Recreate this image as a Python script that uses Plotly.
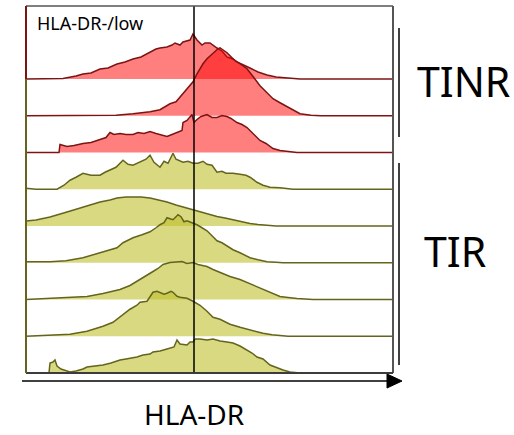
import plotly.graph_objects as go

# ---- data: HLA-DR histograms (channel, count) ----
row_labels = ["TINR 1", "TINR 2", "TINR 3", "TIR 1", "TIR 2", "TIR 3", "TIR 4", "TIR 5", "TIR 6"]
row_groups = ["TINR", "TINR", "TINR", "TIR", "TIR", "TIR", "TIR", "TIR", "TIR"]

r1_x = [0, 20, 37, 50, 57, 65, 74, 82, 91, 99, 107, 115, 124, 130, 134, 141, 146, 149, 154, 157, 164, 167, 171, 176, 179, 184, 191, 196, 201, 207, 211, 218, 221, 224, 232, 241, 250, 257, 274, 367]
r1_y = [0, 0, 0.5, 3, 5, 6, 10, 11, 15, 17, 20, 22, 27, 30, 31, 32, 34, 36, 34, 37, 39, 45, 39, 34, 36, 36, 31, 28, 22, 20, 17, 14, 12, 11, 7, 4, 2, 1.5, 0, 0]

r2_x = [0, 60, 90, 107, 124, 134, 144, 150, 157, 164, 167, 171, 174, 177, 181, 184, 188, 192, 194, 197, 201, 204, 208, 214, 221, 228, 234, 240, 247, 254, 261, 268, 274, 285, 295, 367]
r2_y = [0, 0, 0.5, 2, 4, 6, 12, 14, 22, 30, 34, 42, 47, 52, 57, 60, 64, 67, 68, 66, 63, 60, 56, 52, 47, 38, 30, 24, 17, 13, 9, 5, 2, 0.5, 0, 0]

r3_x = [0, 33, 34, 38, 41, 48, 57, 65, 74, 80, 84, 88, 94, 100, 107, 112, 118, 124, 130, 136, 141, 146, 152, 156, 157, 161, 166, 168, 171, 175, 181, 186, 191, 196, 201, 205, 211, 216, 221, 224, 229, 234, 240, 247, 254, 261, 271, 367]
r3_y = [0, 0, 8, 7, 6, 7, 9, 10, 13, 15, 20, 18, 19, 18, 18, 20, 19, 21, 19, 17, 16, 18, 20, 22, 30, 32, 38, 30, 33, 36, 38, 35, 35, 37, 36, 34, 30, 28, 25, 22, 18, 12, 9, 4, 2, 1, 0, 0]

r4_x = [0, 10, 31, 38, 44, 50, 57, 65, 74, 79, 84, 90, 97, 102, 107, 114, 120, 124, 128, 134, 138, 142, 147, 150, 157, 162, 167, 172, 177, 181, 186, 191, 196, 200, 207, 214, 220, 224, 231, 237, 244, 254, 262, 267, 367]
r4_y = [1, 0, 0, 4, 9, 12, 16, 14, 14, 17, 19, 22, 29, 25, 24, 27, 30, 34, 27, 22, 28, 26, 36, 30, 27, 28, 26, 26, 28, 25, 24, 17, 18, 16, 16, 15, 14, 12, 7, 4, 2, 1.5, 1, 0, 0]

r5_x = [0, 10, 24, 41, 51, 57, 65, 74, 84, 91, 100, 107, 115, 124, 133, 141, 150, 157, 166, 174, 184, 191, 199, 207, 216, 224, 232, 241, 250, 367]
r5_y = [5, 6, 9, 14, 17, 19, 21, 24, 26, 28, 29, 29, 29, 28, 26, 24, 21, 19, 16, 14, 11, 9.5, 8, 6, 4, 2.5, 1.5, 0.5, 0, 0]

r6_x = [0, 24, 40, 57, 74, 91, 97, 107, 116, 124, 130, 134, 138, 141, 144, 147, 150, 152, 155, 158, 161, 166, 171, 176, 181, 186, 191, 196, 201, 207, 214, 224, 232, 241, 250, 257, 367]
r6_y = [1, 1, 2, 5, 10, 15, 20, 25, 28, 31, 35, 38, 40, 45, 44, 43, 46, 48, 46, 41, 42, 40, 38, 35, 32, 27, 22, 20, 17, 13, 10, 5, 3, 1, 0.5, 0, 0]

r7_x = [0, 27, 44, 61, 77, 94, 104, 111, 119, 127, 132, 137, 144, 151, 156, 161, 167, 172, 181, 187, 194, 200, 204, 214, 221, 229, 237, 246, 254, 262, 271, 287, 367]
r7_y = [0, 1, 2, 3, 6, 10, 14, 18, 23, 28, 31, 35, 37, 38, 38, 36, 37, 35, 33, 30, 27, 25, 23, 20, 17, 13, 10, 6, 3, 2, 1, 0, 0]

r8_x = [0, 27, 44, 61, 77, 87, 94, 104, 111, 114, 121, 124, 127, 131, 134, 138, 141, 145, 147, 151, 154, 161, 167, 174, 181, 187, 194, 204, 214, 221, 229, 237, 246, 254, 262, 367]
r8_y = [0, 1, 2, 5, 10, 14, 19, 27, 31, 34, 35, 40, 44, 45, 44, 42, 43, 45, 44, 40, 39, 38, 35, 31, 25, 19, 17, 12, 9, 7, 5, 3, 1.5, 0.5, 0, 0]

r9_x = [0, 23, 24, 27, 29, 31, 35, 40, 44, 50, 57, 61, 68, 77, 85, 94, 100, 107, 111, 117, 124, 127, 134, 141, 144, 148, 151, 154, 161, 164, 167, 169, 174, 181, 187, 194, 201, 207, 214, 221, 226, 231, 237, 244, 251, 257, 264, 274, 367]
r9_y = [0, 0, 10, 11, 13, 7, 4, 2, 1, 2, 4, 6, 7, 8, 10, 13, 14, 15, 16, 18, 19, 21, 22, 24, 25, 26, 33, 29, 28, 31, 31, 34, 34, 33, 34, 32, 31, 30, 27, 23, 20, 16, 14, 8, 5, 3, 1, 0, 0]

rows_x = [r1_x, r2_x, r3_x, r4_x, r5_x, r6_x, r7_x, r8_x, r9_x]
rows_y = [r1_y, r2_y, r3_y, r4_y, r5_y, r6_y, r7_y, r8_y, r9_y]

gate_channel = 168
x_label = "HLA-DR"
gate_label = "HLA-DR-/low"

# ---- style ----
X_MAX = 367
ROW_SPACING = 36.75
FONT = "Noto Sans"
style = {
    "TINR": dict(fill="rgba(255,0,0,0.5)", line="rgb(125,20,20)"),
    "TIR": dict(fill="rgba(190,190,40,0.58)", line="rgb(100,100,30)"),
}

fig = go.Figure()
n = len(rows_x)
for i in range(n):
    base = (n - 1 - i) * ROW_SPACING
    st = style[row_groups[i]]
    curve_y = [base + v for v in rows_y[i]]
    # filled area (no outline)
    fig.add_trace(go.Scatter(
        x=list(rows_x[i]) + [X_MAX, 0], y=curve_y + [base, base],
        mode="lines", fill="toself", fillcolor=st["fill"],
        line=dict(width=0, color=st["fill"]), hoverinfo="skip", showlegend=False,
    ))
    # histogram outline
    fig.add_trace(go.Scatter(
        x=[0] + list(rows_x[i]), y=[base] + curve_y, mode="lines",
        line=dict(color=st["line"], width=1.5), name=row_labels[i],
        hoverinfo="skip", showlegend=False,
    ))

Y_MAX = (n + 1) * ROW_SPACING - 0.5

L, R, T, B = 26, 121, 6, 62
W, H = 514, 435
pw, ph = W - L - R, H - T - B

def px(xp):
    return (xp - L) / pw

def py(yp):
    return (H - B - yp) / ph

shapes = []
shapes.append(dict(type="line", xref="x", yref="paper", x0=gate_channel, x1=gate_channel, y0=0, y1=1,
                   line=dict(color="black", width=1.5), layer="above"))
frame = "rgb(85,85,85)"
shapes.append(dict(type="line", xref="paper", yref="paper", x0=0, x1=1, y0=1, y1=1, line=dict(color=frame, width=1.5)))
shapes.append(dict(type="line", xref="paper", yref="paper", x0=1, x1=1, y0=0, y1=1, line=dict(color=frame, width=2)))
shapes.append(dict(type="line", xref="paper", yref="paper", x0=0, x1=1, y0=0, y1=0, line=dict(color="rgb(60,60,60)", width=2)))
shapes.append(dict(type="line", xref="paper", yref="paper", x0=0, x1=0, y0=py(79), y1=1, line=dict(color=style["TINR"]["line"], width=2)))
shapes.append(dict(type="line", xref="paper", yref="paper", x0=0, x1=0, y0=0, y1=py(79), line=dict(color=style["TIR"]["line"], width=2)))
shapes.append(dict(type="line", xref="paper", yref="paper", x0=px(22), x1=px(390), y0=py(381), y1=py(381), line=dict(color="black", width=1.5)))
shapes.append(dict(type="path", xref="paper", yref="paper",
                   path=f"M {px(387)},{py(374)} L {px(402)},{py(381)} L {px(387)},{py(388)} Z",
                   fillcolor="black", line=dict(color="black", width=1)))
shapes.append(dict(type="line", xref="paper", yref="paper", x0=px(399), x1=px(399), y0=py(28), y1=py(137), line=dict(color="black", width=1.5)))
shapes.append(dict(type="line", xref="paper", yref="paper", x0=px(399), x1=px(399), y0=py(163), y1=py(365), line=dict(color="black", width=1.5)))

annotations = [
    dict(text=gate_label, xref="paper", yref="paper", x=px(35), y=py(23), xanchor="left", yanchor="middle",
         showarrow=False, font=dict(family=FONT, size=18, color="black")),
    dict(text="TINR", xref="paper", yref="paper", x=px(463), y=py(81), xanchor="center", yanchor="middle",
         showarrow=False, font=dict(family=FONT, size=41, color="black")),
    dict(text="TIR", xref="paper", yref="paper", x=px(455), y=py(251), xanchor="center", yanchor="middle",
         showarrow=False, font=dict(family=FONT, size=41, color="black")),
    dict(text=x_label, xref="paper", yref="paper", x=px(194), y=py(414), xanchor="center", yanchor="middle",
         showarrow=False, font=dict(family=FONT, size=28, color="black")),
]

fig.update_layout(
    width=W, height=H, margin=dict(l=L, r=R, t=T, b=B, pad=0),
    paper_bgcolor="white", plot_bgcolor="white",
    xaxis=dict(range=[0, X_MAX], visible=False, showgrid=False, zeroline=False, fixedrange=True),
    yaxis=dict(range=[0, Y_MAX], visible=False, showgrid=False, zeroline=False, fixedrange=True),
    shapes=shapes, annotations=annotations, showlegend=False,
)
fig.write_html("out.html", config={"displayModeBar": False})
